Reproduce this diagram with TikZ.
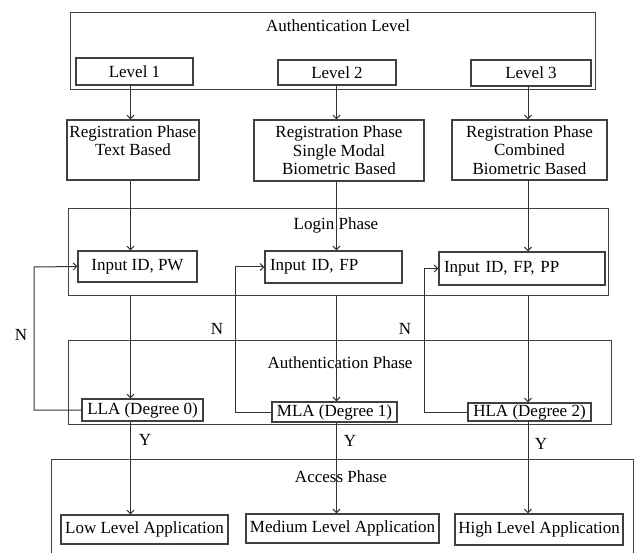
\documentclass[tikz,border=0pt]{standalone}
\usepackage{fontspec}
\setmainfont{Liberation Serif}
\usetikzlibrary{arrows.meta}

\tikzset{
  frame/.style={draw=black!75, line width=1.2pt, inner sep=0pt, anchor=north west},
  box/.style={draw=black!75, line width=1.2pt, inner sep=1pt, align=center},
  leftbox/.style={box, inner xsep=5pt, align=left},
  link/.style={draw=black!80, line width=1pt},
  tag/.style={inner sep=0pt}
}

\begin{document}
\begin{tikzpicture}[x=1pt, y=-1pt, >={Straight Barb[length=3.5pt,width=7pt]},
    every node/.append style={font=\fontsize{17}{18.5}\selectfont}]
    \useasboundingbox (0,0) rectangle (637,553);

    % --- Columns of the three levels ---
    \coordinate (c1) at (130.5, 0);    % Level 1
    \coordinate (c2) at (336.5, 0);    % Level 2
    \coordinate (c3) at (528, 0);      % Level 3

    % ==============================================================
    % 1. AUTHENTICATION LEVEL
    % ==============================================================
    \node[frame, minimum width=525pt, minimum height=77pt] (levelframe) at (70, 12) {};
    \node (leveltitle) at (338, 26) {Authentication Level};

    \node[box, minimum width=117pt, minimum height=27pt] (lvl1) at (134.5, 71.5) {Level 1};
    \node[box, minimum width=118pt, minimum height=25pt] (lvl2) at (337, 72.5) {Level 2};
    \node[box, minimum width=120pt, minimum height=26pt] (lvl3) at (531, 73) {Level 3};

    % ==============================================================
    % 2. REGISTRATION PHASE
    % ==============================================================
    \node[box, minimum width=132pt, minimum height=60pt] (reg1) at (133, 150)
        {Registration Phase\\Text Based\hspace*{10pt}\\\mbox{}};
    \node[box, minimum width=170pt, minimum height=61pt] (reg2) at (339, 150.5)
        {Registration Phase\\Single Modal\\Biometric Based};
    \node[box, minimum width=155pt, minimum height=60pt] (reg3) at (529.5, 150)
        {Registration Phase\\Combined\\Biometric Based};

    \foreach \i in {1,2,3}
        \draw[link, ->] (lvl\i.south -| c\i) -- (reg\i.north -| c\i);

    % ==============================================================
    % 3. LOGIN PHASE
    % ==============================================================
    \node[frame, minimum width=540pt, minimum height=87pt] (loginframe) at (68, 208) {};
    \node (logintitle) at (336, 225) {Login Phase};

    \node[box, minimum width=119pt, minimum height=31pt] (in1) at (137.5, 266.5) {Input ID, PW};
    \node[leftbox, text width=127pt, minimum height=32pt] (in2) at (333.5, 267) {Input ID, FP};
    \node[leftbox, text width=156pt, minimum height=33pt] (in3) at (522, 268.5) {Input ID, FP, PP};

    \foreach \i in {1,2,3}
        \draw[link, ->] (reg\i.south -| c\i) -- (in\i.north -| c\i);

    % ==============================================================
    % 4. AUTHENTICATION PHASE
    % ==============================================================
    \node[frame, minimum width=543pt, minimum height=84pt] (authframe) at (68, 340) {};
    \node (authtitle) at (340, 363) {Authentication Phase};

    \node[box, minimum width=121pt, minimum height=22pt] (lla) at (142.5, 410) {LLA (Degree 0)};
    \node[box, minimum width=125pt, minimum height=20pt] (mla) at (334.5, 412) {MLA (Degree 1)};
    \node[box, minimum width=123pt, minimum height=18pt] (hla) at (529.5, 412) {HLA (Degree 2)};

    \draw[link, ->] (loginframe.south -| c1) -- (lla.north -| c1);
    \draw[link, ->] (loginframe.south -| c2) -- (mla.north -| c2);
    \draw[link, ->] (loginframe.south -| c3) -- (hla.north -| c3);

    % Back to the input when it fails (N)
    \draw[link, ->] (lla.west) -| (34, 267) -- (in1.west);
    \draw[link, ->] (mla.west) -| (235, 267) -- (in2.west);
    \draw[link, ->] (hla.west) -| (424, 268.5) -- (in3.west);

    \node[tag] (n1) at (21, 335) {N};
    \node[tag] (n2) at (217, 329) {N};
    \node[tag] (n3) at (405, 329) {N};

    % ==============================================================
    % 5. ACCESS PHASE
    % ==============================================================
    \node[frame, minimum width=582pt, minimum height=97pt] (accessframe) at (51, 459) {};
    \node (accesstitle) at (341, 477) {Access Phase};

    \node[box, minimum width=167pt, minimum height=29pt] (low) at (144.5, 529.5) {Low Level Application};
    \node[box, minimum width=193pt, minimum height=29pt] (med) at (342.5, 528.5) {Medium Level Application};
    \node[box, minimum width=168pt, minimum height=31pt] (high) at (539, 529.5) {High Level Application};

    \draw[link, ->] (lla.south -| c1) -- (low.north -| c1);
    \draw[link, ->] (mla.south -| c2) -- (med.north -| c2);
    \draw[link, ->] (hla.south -| c3) -- (high.north -| c3);

    \node[tag] (y1) at (145, 440) {Y};
    \node[tag] (y2) at (350, 441) {Y};
    \node[tag] (y3) at (541, 444) {Y};
\end{tikzpicture}
\end{document}
